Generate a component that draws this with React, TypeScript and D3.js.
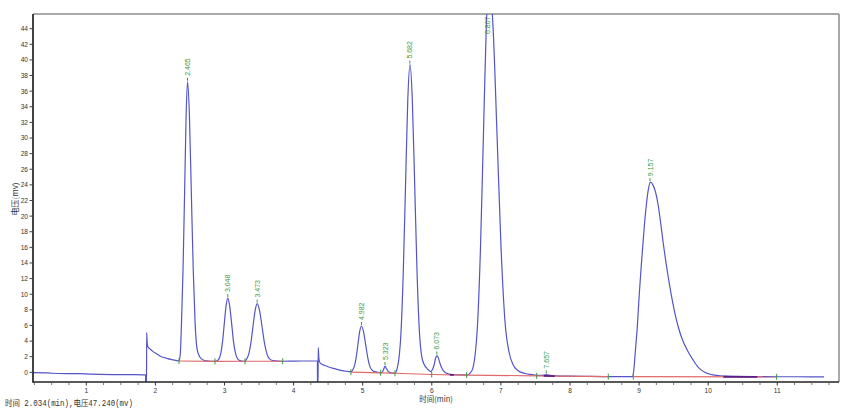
import React from 'react';
import * as d3 from 'd3';

// Chromatogram trace: [time (min), voltage (mV)]
const signal: [number, number][] = [
  [0.229, -0.05], [0.45, -0.08], [0.5, -0.12], [0.9, -0.18], [1.2, -0.26], [1.6, -0.3], [1.858, -0.33],
  [1.859, -1.6], [1.872, -1.6], [1.874, 5.1], [1.88, 4.0], [1.888, 3.35], [1.9, 3.15], [1.92, 3.0],
  [1.968, 2.65], [2.02, 2.35], [2.065, 2.1], [2.11, 1.93], [2.162, 1.8], [2.21, 1.68], [2.258, 1.6],
  [2.3, 1.52], [2.342, 1.47],
  [2.36, 2.3], [2.378, 6.3], [2.4, 13.1], [2.423, 23.1], [2.445, 33.0], [2.466, 37.2], [2.492, 33.0],
  [2.52, 23.1], [2.548, 13.1], [2.575, 6.3], [2.603, 3.0], [2.64, 2.0], [2.7, 1.55], [2.76, 1.45], [2.862, 1.4],
  [2.9, 1.5], [2.923, 1.76], [2.948, 2.5], [2.973, 4.0], [2.998, 6.3], [3.023, 8.5], [3.048, 9.5],
  [3.075, 8.5], [3.103, 6.3], [3.13, 4.0], [3.158, 2.5], [3.185, 1.8], [3.22, 1.5], [3.26, 1.42], [3.297, 1.4],
  [3.32, 1.7], [3.353, 2.4], [3.383, 3.8], [3.413, 5.9], [3.443, 7.9], [3.473, 8.8], [3.508, 7.9],
  [3.543, 5.9], [3.578, 3.8], [3.613, 2.4], [3.648, 1.75], [3.7, 1.5], [3.78, 1.43], [3.842, 1.42],
  [4.0, 1.44], [4.2, 1.45], [4.345, 1.45],
  [4.346, -1.6], [4.354, -1.6], [4.357, 3.15], [4.366, 1.8], [4.38, 1.25], [4.41, 1.02], [4.45, 0.88],
  [4.5, 0.72], [4.577, 0.5], [4.64, 0.35], [4.7, 0.22], [4.76, 0.14], [4.83, 0.08],
  [4.85, 0.23], [4.882, 0.85], [4.907, 1.97], [4.932, 3.63], [4.957, 5.25], [4.982, 5.93], [5.012, 5.2],
  [5.042, 3.6], [5.072, 1.95], [5.102, 0.8], [5.132, 0.3], [5.17, 0.1], [5.22, 0.0], [5.26, -0.04],
  [5.28, 0.0], [5.3, 0.3], [5.323, 0.8], [5.345, 0.45], [5.37, 0.1], [5.4, -0.04], [5.44, -0.1], [5.467, -0.12],
  [5.5, 0.55], [5.522, 1.6], [5.555, 5.2], [5.587, 12.7], [5.62, 23.9], [5.652, 34.7], [5.685, 39.4],
  [5.719, 34.7], [5.753, 23.9], [5.787, 12.7], [5.821, 5.2], [5.855, 2.0], [5.89, 1.0], [5.93, 0.5], [5.985, 0.1],
  [6.01, 0.35], [6.035, 1.0], [6.055, 1.8], [6.075, 2.15], [6.095, 1.85], [6.12, 1.1], [6.15, 0.45],
  [6.19, 0.0], [6.24, -0.2], [6.3, -0.3], [6.4, -0.33], [6.505, -0.35],
  [6.58, 0.2], [6.6, 0.73], [6.622, 1.86], [6.664, 6.45], [6.705, 16.0], [6.747, 30.2], [6.788, 44.1],
  [6.83, 50.0], [6.887, 44.1], [6.945, 30.2], [7.002, 16.0], [7.06, 6.45], [7.118, 2.6], [7.175, 1.0],
  [7.25, 0.2], [7.35, -0.15], [7.45, -0.3], [7.518, -0.38],
  [7.6, -0.38], [7.64, -0.33], [7.657, -0.28], [7.675, -0.33], [7.72, -0.4], [7.8, -0.45], [8.0, -0.5],
  [8.3, -0.53], [8.554, -0.55], [8.75, -0.55], [8.907, -0.55],
  [8.925, 0.4], [8.945, 2.6], [8.974, 5.8], [9.003, 10.1], [9.038, 14.4], [9.071, 18.2], [9.1, 21.0],
  [9.13, 23.2], [9.165, 24.35], [9.2, 24.0], [9.24, 23.0], [9.28, 21.2], [9.317, 18.8], [9.35, 16.5],
  [9.385, 14.3], [9.42, 12.3], [9.462, 10.1], [9.51, 7.9], [9.567, 5.8], [9.63, 4.1], [9.7, 2.8],
  [9.78, 1.6], [9.86, 0.6], [9.95, 0.0], [10.05, -0.3], [10.17, -0.45],
  [10.3, -0.52], [10.7, -0.55], [11.0, -0.57], [11.3, -0.57], [11.676, -0.58],
];

// Peak retention times (labels) and apex voltages
const peakTimes = [2.465, 3.048, 3.473, 4.982, 5.323, 5.682, 6.073, 6.807, 7.657, 9.157];
const peakApex = [37.2, 9.5, 8.8, 5.93, 0.8, 39.4, 2.15, 50.0, -0.28, 24.35];

// Integration baselines (red), as runs of [time, mV] knots
const baselineRuns: [number, number][][] = [
  [[2.342, 1.45], [2.862, 1.4], [3.297, 1.42], [3.842, 1.42]],
  [[4.83, 0.02], [5.26, -0.06], [5.467, -0.12], [5.999, -0.28], [6.505, -0.35], [7.518, -0.45], [8.554, -0.55]],
  [[8.916, -0.55], [10.991, -0.58]],
];

// Integration event marks (green ticks) on the baseline
const eventTimes = [2.342, 2.862, 3.297, 3.842, 4.83, 5.26, 5.467, 5.999, 6.505, 7.518, 8.554, 8.916, 10.991];

// Peak-end marks (dark purple) [start, end]
const endMarks: [number, number][] = [[6.26, 6.32], [7.62, 7.78], [10.22, 10.71]];

const xTickLabels = [1, 2, 3, 4, 5, 6, 7, 8, 9, 10, 11];
const xMinorTicks = [0.25, 0.5, 0.75, 1.25, 1.5, 1.75, 2.25, 2.5, 2.75, 3.25, 3.5, 3.75, 4.25, 4.5, 4.75,
  5.25, 5.5, 5.75, 6.25, 6.5, 6.75, 7.25, 7.5, 7.75, 8.25, 8.5, 8.75, 9.25, 9.5, 9.75, 10.25, 10.5, 10.75,
  11.25, 11.5, 11.75];
const yTickLabels = [0, 2, 4, 6, 8, 10, 12, 14, 16, 18, 20, 22, 24, 26, 28, 30, 32, 34, 36, 38, 40, 42, 44];

const statusText = '时间 2.034(min),电压47.240(mv)';
const xTitle = '时间(min)';
const yTitle = '电压(mv)';

export default function App() {
  const L = 33, R = 839, T = 14, B = 382;
  const x = d3.scaleLinear().domain([0.229, 11.893]).range([L, R]);
  const y = d3.scaleLinear().domain([-1.24, 45.88]).range([B, T]);
  const line = d3.line<[number, number]>().x(d => x(d[0])).y(d => y(d[1])).curve(d3.curveMonotoneX);
  const baseLine = d3.line<[number, number]>().x(d => x(d[0])).y(d => y(d[1]));
  const knots = baselineRuns.flat();
  const baseAt = d3.scaleLinear().domain(knots.map(k => k[0])).range(knots.map(k => k[1])).clamp(true);

  const font = "'Liberation Sans', Arial, sans-serif";
  const green = '#3b9a3b';

  return (
    <svg width={860} height={408} style={{ position: 'absolute', left: 0, top: 0, background: '#fff' }}>
      <defs>
        <clipPath id="plot">
          <rect x={L} y={T} width={R - L} height={B - T} />
        </clipPath>
      </defs>
      <rect x={0} y={0} width={860} height={408} fill="#fff" />

      {/* border */}
      <line x1={L} y1={T} x2={R} y2={T} stroke="#8c8c8c" strokeWidth={1.5} />
      <line x1={R} y1={T} x2={R} y2={B} stroke="#8c8c8c" strokeWidth={1.5} />

      <g clipPath="url(#plot)">
        <path d={line(signal) || ''} fill="none" stroke="#5454c8" strokeWidth={1.2} />
        {baselineRuns.map((run, i) => (
          <path key={i} d={baseLine(run) || ''} fill="none" stroke="#e06a6a" strokeWidth={1.2} />
        ))}
        {endMarks.map(([a, b], i) => (
          <line key={i} x1={x(a)} x2={x(b)} y1={y(baseAt(a))} y2={y(baseAt(b))} stroke="#5a1f86" strokeWidth={1.8} />
        ))}
        {eventTimes.map((t, i) => (
          <line key={i} x1={x(t)} x2={x(t)} y1={y(baseAt(t)) - 3} y2={y(baseAt(t)) + 3} stroke={green} strokeWidth={1} />
        ))}
      </g>

      {/* peak labels */}
      {peakTimes.map((t, i) => {
        const px = x(t);
        const py = y(peakApex[i]);
        const clamped = py - 24 < T;
        const textY = clamped ? T + 20 : py - 6;
        return (
          <g key={i}>
            {!clamped && <line x1={px} x2={px} y1={py - 1} y2={py - 4} stroke={green} strokeWidth={1} />}
            <text transform={`translate(${px + 2.6},${textY}) rotate(-90)`} fontSize={7} fontFamily={font} fill={green}>
              {t.toFixed(3)}
            </text>
          </g>
        );
      })}

      {/* axes */}
      <line x1={L} y1={T} x2={L} y2={B + 0.8} stroke="#222" strokeWidth={1.7} />
      <line x1={L} y1={B} x2={R} y2={B} stroke="#222" strokeWidth={1.7} />

      {yTickLabels.map(v => (
        <g key={v}>
          <line x1={L - 3.5} x2={L} y1={y(v)} y2={y(v)} stroke="#444" strokeWidth={1} />
          <text x={L - 5} y={y(v) + 2.4} textAnchor="end" fontSize={6.6} fontFamily={font} fill="#333">{v}</text>
        </g>
      ))}

      {xMinorTicks.map(v => (
        <line key={v} x1={x(v)} x2={x(v)} y1={B} y2={B + 3} stroke="#555" strokeWidth={0.8} />
      ))}
      {xTickLabels.map(v => (
        <g key={v}>
          <line x1={x(v)} x2={x(v)} y1={B} y2={B + 3.5} stroke="#333" strokeWidth={1} />
          <text x={x(v)} y={B + 10.8} textAnchor="middle" fontSize={6.6} fontFamily={font} fill="#333">{v}</text>
        </g>
      ))}

      <text x={436} y={401.5} textAnchor="middle" fontSize={7.5} fontFamily="'Noto Sans CJK SC', sans-serif" fill="#333">{xTitle}</text>
      <text transform={`translate(18,199) rotate(-90)`} textAnchor="middle" fontSize={8} fontFamily="'Noto Sans CJK SC', sans-serif" fill="#333">{yTitle}</text>

      <text x={5} y={406} fontSize={8.5} textLength={128} lengthAdjust="spacingAndGlyphs"
        fontFamily="'Liberation Mono', 'Noto Sans CJK SC', monospace" fill="#333">{statusText}</text>
    </svg>
  );
}
